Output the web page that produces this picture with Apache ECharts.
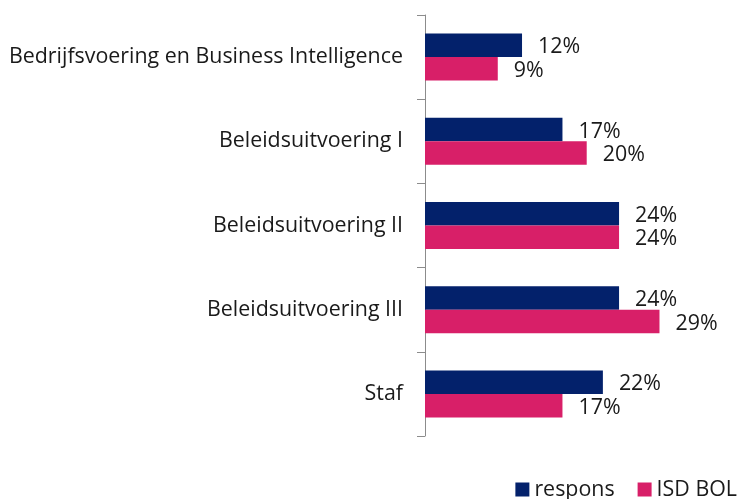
<!DOCTYPE html>
<html>
<head>
<meta charset="utf-8">
<script src="https://cdn.jsdelivr.net/npm/echarts@6/dist/echarts.min.js"></script>
<style>
  html, body { margin: 0; padding: 0; background: #fff; }
  #chart { width: 742px; height: 499px; }
</style>
</head>
<body>
<div id="chart"></div>
<script>
// Afdelingen (van boven naar beneden)
const categories = [
  'Bedrijfsvoering en Business Intelligence',
  'Beleidsuitvoering I',
  'Beleidsuitvoering II',
  'Beleidsuitvoering III',
  'Staf'
];
// Aandeel per afdeling, in procenten
const respons = [12, 17, 24, 24, 22];
const isdBol = [9, 20, 24, 29, 17];

const FONT = '"Open Sans", "Noto Sans", sans-serif';
const FONT_SIZE = 21.4;

const chart = echarts.init(document.getElementById('chart'));

const valueLabel = {
  show: true,
  position: 'right',
  distance: 16,
  offset: [0, 2],
  formatter: '{c}%',
  color: '#1a1a1a',
  fontFamily: FONT,
  fontSize: FONT_SIZE
};

chart.setOption({
  animation: false,
  textStyle: { fontFamily: FONT },
  grid: { left: 425, top: 15, bottom: 63, width: 283 },
  xAxis: {
    type: 'value',
    min: 0,
    max: 35,
    show: false
  },
  yAxis: {
    type: 'category',
    data: categories,
    inverse: true,
    axisLine: { show: true, lineStyle: { color: '#8c8c8c', width: 1 } },
    axisTick: { show: true, length: 8, lineStyle: { color: '#8c8c8c' } },
    axisLabel: {
      color: '#1a1a1a',
      fontFamily: FONT,
      fontSize: FONT_SIZE,
      margin: 22
    }
  },
  legend: {
    right: 0,
    top: 474,
    icon: 'rect',
    itemWidth: 14,
    itemHeight: 14,
    itemGap: 23,
    textStyle: { color: '#1a1a1a', fontFamily: FONT, fontSize: FONT_SIZE },
    data: ['respons', 'ISD BOL']
  },
  series: [
    {
      name: 'respons',
      type: 'bar',
      data: respons,
      barWidth: 23.5,
      barGap: '0%',
      itemStyle: { color: '#03216b' },
      label: valueLabel
    },
    {
      name: 'ISD BOL',
      type: 'bar',
      data: isdBol,
      barWidth: 23.5,
      barGap: '0%',
      itemStyle: { color: '#d81f68' },
      label: valueLabel
    }
  ]
});
</script>
</body>
</html>
